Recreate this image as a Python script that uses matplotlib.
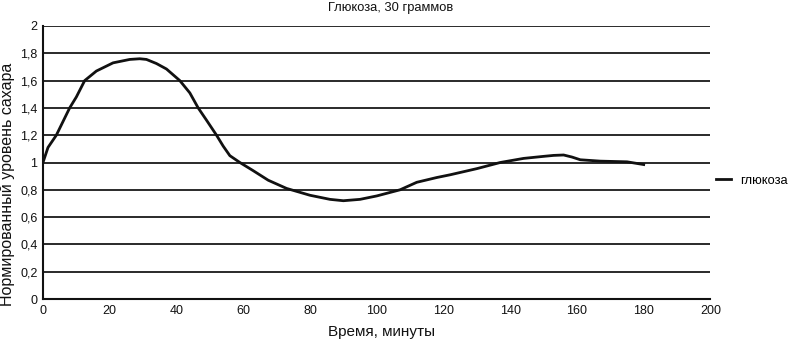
import numpy as np
import matplotlib.pyplot as plt
from matplotlib.ticker import FuncFormatter

plt.rcParams['font.family'] = ['Liberation Sans', 'DejaVu Sans']

# время (мин) и нормированный уровень сахара
time_min = [0, 1.5, 4, 6, 8, 10, 12.5, 16, 21, 26, 29, 31, 34, 37, 41, 44, 46.5, 49, 52,
            54, 56, 59, 63, 67.5, 73, 80, 86, 90, 95, 100, 107, 112, 118, 122, 130,
            137, 144, 150, 153, 156, 158.5, 161, 167, 175, 180]
glucose = [1.0, 1.11, 1.2, 1.3, 1.4, 1.48, 1.6, 1.67, 1.73, 1.755, 1.76, 1.755, 1.725,
           1.685, 1.6, 1.51, 1.4, 1.31, 1.2, 1.12, 1.05, 1.0, 0.94, 0.87, 0.81, 0.76,
           0.73, 0.72, 0.73, 0.755, 0.8, 0.855, 0.89, 0.91, 0.955, 1.0, 1.03, 1.045,
           1.052, 1.055, 1.04, 1.02, 1.01, 1.005, 0.985]

xticks = np.arange(0, 201, 20)
yticks = np.arange(0, 2.01, 0.2)

fig = plt.figure(figsize=(7.9, 3.42), dpi=100)
ax = fig.add_axes([0.0544, 0.1257, 0.8449, 0.7983])

for y in yticks[1:]:
    ax.axhline(y, color='#2a2a2a', lw=1.4, zorder=1)

ax.plot(time_min, glucose, color='#111111', lw=2.0, label='глюкоза', zorder=3,
        solid_joinstyle='round')

ax.set_xlim(0, 200)
ax.set_ylim(0, 2)
ax.set_xticks(xticks)
ax.set_yticks(yticks)

def comma(v, pos):
    s = ('%.1f' % v).rstrip('0').rstrip('.')
    return s.replace('.', ',')

ax.yaxis.set_major_formatter(FuncFormatter(comma))
ax.tick_params(length=0, labelsize=9, pad=4, colors='#111111')
for side in ['top', 'right']:
    ax.spines[side].set_visible(False)
for side in ['left', 'bottom']:
    ax.spines[side].set_color('#111111')
    ax.spines[side].set_linewidth(1.5)

fig.text(0.494, 0.995, 'Глюкоза, 30 граммов', fontsize=9.3, ha='center', va='top',
         color='#111111')
ax.set_xlabel('Время, минуты', fontsize=11, color='#111111')
ax.xaxis.set_label_coords(0.507, -0.095)
ax.xaxis.label.set_va('top')
ax.set_ylabel('Нормированный уровень сахара', fontsize=11.5, color='#111111', va='center')
ax.yaxis.set_label_coords(-0.053, 0.42)

fig.legend(loc='center left', bbox_to_anchor=(0.906, 0.471), frameon=False,
           fontsize=9.3, handlelength=1.2, handletextpad=0.7, borderpad=0,
           borderaxespad=0)

fig.savefig('out.png', dpi=100)
